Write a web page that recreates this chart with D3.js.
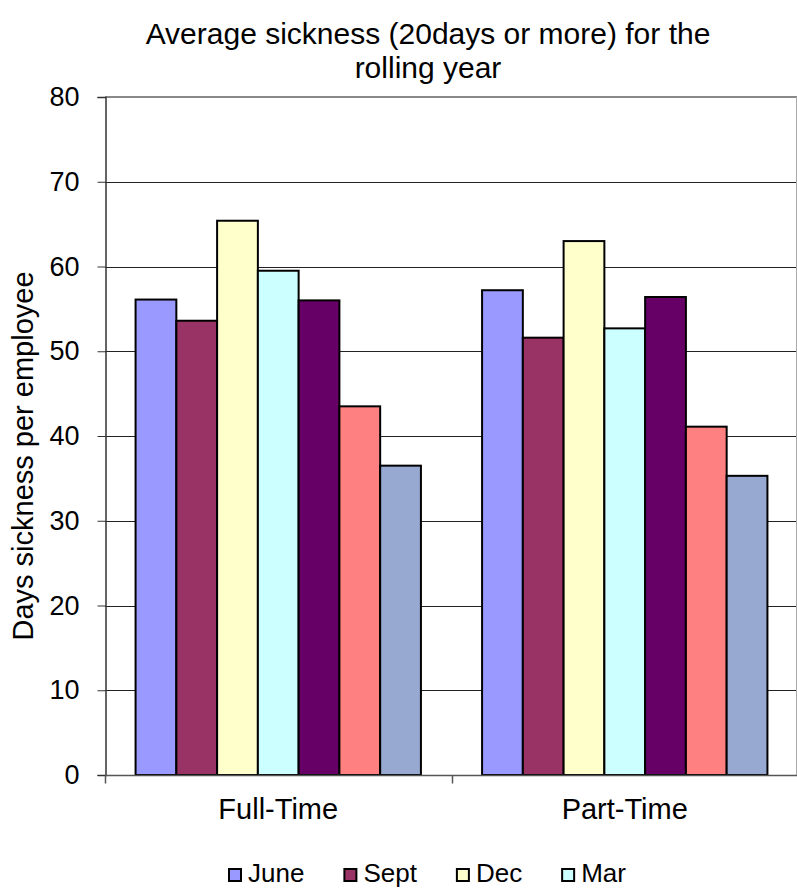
<!DOCTYPE html>
<html>
<head>
<meta charset="utf-8">
<script src="https://cdn.jsdelivr.net/npm/d3@7/dist/d3.min.js"></script>
<style>
  html, body { margin: 0; padding: 0; background: #fff; }
  svg { display: block; font-family: "Liberation Sans", Arial, sans-serif; }
</style>
</head>
<body>
<svg id="chart" width="797" height="889"></svg>
<script>
// ---- Data ----
const categories = ["Full-Time", "Part-Time"];
const seriesNames = ["June", "Sept", "Dec", "Mar", "Series 5", "Series 6", "Series 7"];
const legendNames = ["June", "Sept", "Dec", "Mar"];
const fullTimeValues = [56.1, 53.6, 65.4, 59.5, 56.0, 43.5, 36.5];
const partTimeValues = [57.2, 51.6, 63.0, 52.7, 56.4, 41.1, 35.3];
const seriesColors = ["#9999FF", "#993366", "#FFFFCC", "#CCFFFF", "#660066", "#FF8080", "#97A9D0"];
const yTicks = [0, 10, 20, 30, 40, 50, 60, 70, 80];
const titleLines = ["Average sickness (20days or more) for the", "rolling year"];
const yTitle = "Days sickness per employee";

const valuesByCategory = { "Full-Time": fullTimeValues, "Part-Time": partTimeValues };

const svg = d3.select("#chart");
const plot = { left: 105, right: 798, top: 97, bottom: 775 };

const x0 = d3.scaleBand().domain(categories).range([plot.left, plot.right]).paddingInner(0).paddingOuter(0);
const x1 = d3.scaleBand().domain(seriesNames).range([0, x0.bandwidth()]).paddingInner(0).paddingOuter(0.75);
const y = d3.scaleLinear().domain([0, 80]).range([plot.bottom, plot.top]);

// Gridlines
svg.append("g").selectAll("line").data(yTicks.filter(d => d > 0 && d < 80)).join("line")
  .attr("x1", plot.left).attr("x2", 796)
  .attr("y1", d => Math.round(y(d)) + 0.5).attr("y2", d => Math.round(y(d)) + 0.5)
  .attr("stroke", "#222").attr("stroke-width", 1);

// Plot area top and right border
svg.append("line").attr("x1", plot.left).attr("x2", 797).attr("y1", y(80)).attr("y2", y(80))
  .attr("stroke", "#888").attr("stroke-width", 2);
svg.append("line").attr("x1", 796.5).attr("x2", 796.5).attr("y1", y(80)).attr("y2", plot.bottom)
  .attr("stroke", "#aaa").attr("stroke-width", 1);

// Bars
const groups = svg.append("g").selectAll("g").data(categories).join("g")
  .attr("transform", c => `translate(${x0(c)},0)`);
groups.selectAll("rect")
  .data(c => valuesByCategory[c].map((v, i) => ({ name: seriesNames[i], value: v, color: seriesColors[i] })))
  .join("rect")
  .attr("x", d => x1(d.name))
  .attr("y", d => y(d.value))
  .attr("width", x1.bandwidth())
  .attr("height", d => y(0) - y(d.value))
  .attr("fill", d => d.color)
  .attr("stroke", "#000")
  .attr("stroke-width", 2);

// Y axis
const yAxis = d3.axisLeft(y).tickValues(yTicks).tickSize(8).tickPadding(18).tickFormat(d3.format("d"));
const ya = svg.append("g").attr("transform", `translate(${plot.left + 0.5},0)`).call(yAxis);
ya.select(".domain").attr("stroke", "#333").attr("stroke-width", 1.5);
ya.selectAll(".tick line").attr("stroke", "#333");
ya.selectAll(".tick text").attr("font-size", 27).attr("fill", "#000")
  .attr("font-family", "Liberation Sans, Arial, sans-serif");

// X axis
const xa = svg.append("g").attr("transform", `translate(0,${plot.bottom + 0.5})`);
xa.append("line").attr("x1", plot.left).attr("x2", 797).attr("y1", 0).attr("y2", 0)
  .attr("stroke", "#555").attr("stroke-width", 1.5);
const boundaries = categories.map(c => x0(c)).concat([x0(categories[categories.length - 1]) + x0.bandwidth()]);
xa.selectAll("line.tk").data(boundaries).join("line").attr("class", "tk")
  .attr("x1", d => Math.round(d) + 0.5).attr("x2", d => Math.round(d) + 0.5)
  .attr("y1", 0).attr("y2", 8).attr("stroke", "#555").attr("stroke-width", 1.5);
xa.selectAll("text").data(categories).join("text")
  .attr("x", c => x0(c) + x0.bandwidth() / 2)
  .attr("y", 43)
  .attr("text-anchor", "middle")
  .attr("font-size", 29)
  .text(c => c);

// Title
svg.append("g").selectAll("text").data(titleLines).join("text")
  .attr("x", 428).attr("y", (d, i) => 44 + i * 34)
  .attr("text-anchor", "middle").attr("font-size", 30)
  .text(d => d);

// Y-axis title
svg.append("text")
  .attr("transform", "translate(33,456) rotate(-90)")
  .attr("text-anchor", "middle").attr("font-size", 29)
  .text(yTitle);

// Legend
const legend = svg.append("g").attr("transform", "translate(228,868)");
let lx = 0;
legendNames.forEach((name, i) => {
  const g = legend.append("g").attr("transform", `translate(${lx},0)`);
  g.append("rect").attr("x", 1).attr("y", 1).attr("width", 12).attr("height", 12)
    .attr("fill", seriesColors[i]).attr("stroke", "#000").attr("stroke-width", 2);
  const t = g.append("text").attr("x", 20).attr("y", 14).attr("font-size", 26).text(name);
  const w = t.node().getComputedTextLength();
  lx += 20 + w + 39;
});
</script>
</body>
</html>
